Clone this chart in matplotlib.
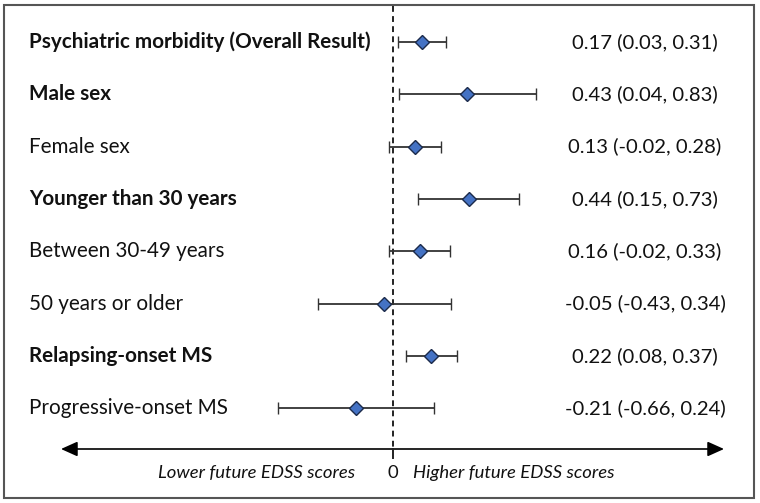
import matplotlib
matplotlib.use("Agg")
import matplotlib.pyplot as plt
from matplotlib.patches import Rectangle, FancyArrowPatch
from matplotlib.transforms import blended_transform_factory

plt.rcParams['font.family'] = ['Lato', 'DejaVu Sans']

# forest plot data
labels = ["Psychiatric morbidity (Overall Result)", "Male sex", "Female sex",
          "Younger than 30 years", "Between 30-49 years", "50 years or older",
          "Relapsing-onset MS", "Progressive-onset MS"]
bold_rows = [True, True, False, True, False, False, True, False]
estimate = [0.17, 0.43, 0.13, 0.44, 0.16, -0.05, 0.22, -0.21]
lower = [0.03, 0.04, -0.02, 0.15, -0.02, -0.43, 0.08, -0.66]
upper = [0.31, 0.83, 0.28, 0.73, 0.33, 0.34, 0.37, 0.24]

W, H = 760, 503
fig = plt.figure(figsize=(W / 100, H / 100), dpi=100)

# pixel-space axes for the frame, arrow and captions
frame = fig.add_axes([0, 0, 1, 1])
frame.set_xlim(0, W)
frame.set_ylim(H, 0)
frame.axis("off")

# data axes: zero sits at x=392.5px, 173px per unit; rows every 52.3px from y=42
ax = fig.add_axes([0, 0, 1, 1])
ax.set_xlim(-392.5 / 173, (W - 392.5) / 173)
ax.set_ylim((H - 42) / 52.3, -42 / 52.3)
ax.axis("off")

rows = list(range(len(labels)))
xerr = [[e - l for e, l in zip(estimate, lower)], [u - e for e, u in zip(estimate, upper)]]

# zero reference line
zt = blended_transform_factory(ax.transData, frame.transData)
ax.plot([0, 0], [6, 449], transform=zt, color="#222222", lw=1.4,
        linestyle=(0, (3, 2.2)), zorder=1)
ax.plot([0, 0], [449, 458], transform=zt, color="#222222", lw=1.4, zorder=1)

ax.errorbar(estimate, rows, xerr=xerr, fmt="D", ms=7.5, mfc="#4472C4", mec="#1b2a4a",
            mew=1.0, ecolor="#333333", elinewidth=1.3, capsize=4.5, capthick=1.3, zorder=3)

# row labels and estimates text
lt = blended_transform_factory(frame.transData, ax.transData)
for i, lab in enumerate(labels):
    ax.text(29, i, lab, transform=lt, ha="left", va="center", fontsize=14.9,
            fontweight="bold" if bold_rows[i] else "normal", color="#111111")
    s = "%.2f (%.2f, %.2f)" % (estimate[i], lower[i], upper[i])
    ax.text(645, i, s, transform=lt, ha="center", va="center", fontsize=14.6, color="#111111")

# bottom arrow and captions
arr = FancyArrowPatch((61, 449), (724, 449), arrowstyle="<|-|>,head_length=1.0,head_width=0.45",
                      mutation_scale=10, color="black", lw=1.2, shrinkA=0, shrinkB=0)
frame.add_patch(arr)
frame.text(355, 473, "Lower future EDSS scores", ha="right", va="center",
           fontsize=13.3, style="italic", color="#111111")
frame.text(393, 473, "0", ha="center", va="center", fontsize=13.3, color="#111111")
frame.text(413, 473, "Higher future EDSS scores", ha="left", va="center",
           fontsize=13.3, style="italic", color="#111111")

frame.add_patch(Rectangle((4, 5), 750, 493, fill=False, edgecolor="#555555", lw=1.5))

fig.savefig("out.png", dpi=100)
